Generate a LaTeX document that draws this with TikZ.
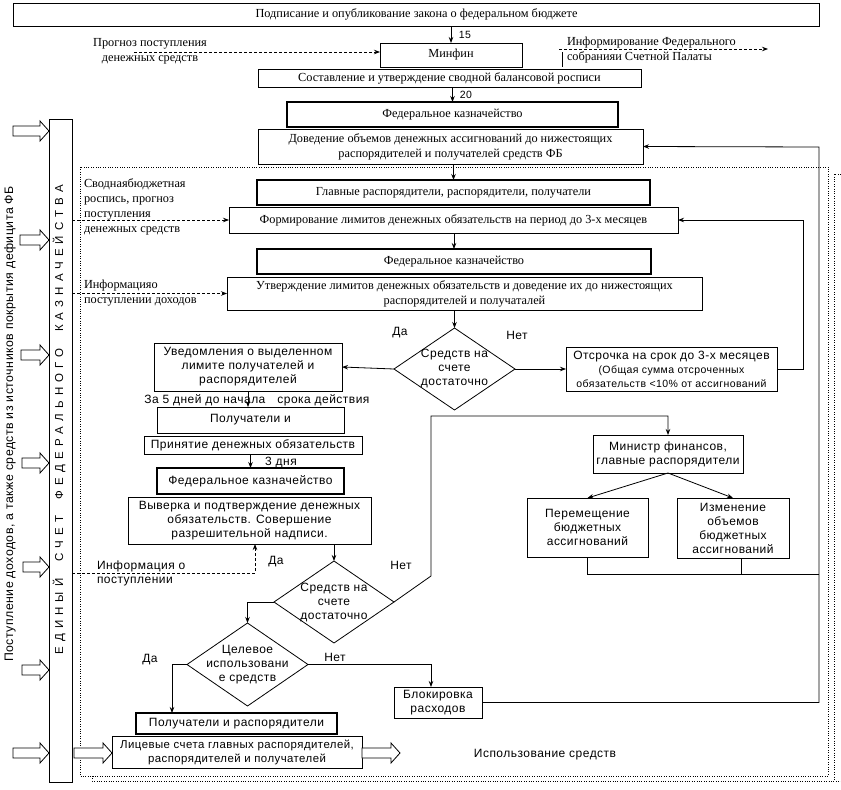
\documentclass[tikz,border=0pt]{standalone}
\usepackage{fontspec}
\setmainfont{Liberation Serif}
\setsansfont{Liberation Sans}
\newfontfamily\spacedsans[LetterSpace=45]{Liberation Sans}
\newfontfamily\widesans[LetterSpace=4]{Liberation Sans}
\usetikzlibrary{shapes.geometric,arrows.meta,calc}
\newcommand\serf{\fontsize{12.3}{15}\selectfont\rmfamily}
\newcommand\sanf{\fontsize{12}{14}\selectfont\widesans}
\newcommand\sanfs{\fontsize{10.5}{14}\selectfont\widesans}
\newcommand\blkarr[3]{%
  \draw[line width=0.8pt,fill=white] (#1,#2-5) -- (#3-9,#2-5) -- (#3-9,#2-10) -- (#3,#2) -- (#3-9,#2+10) -- (#3-9,#2+5) -- (#1,#2+5) -- cycle;}
\begin{document}
\begin{tikzpicture}[x=1pt,y=-1pt,
  every node/.style={inner sep=0pt, outer sep=0pt},
  sbox/.style={draw, line width=0.8pt, align=center, font=\serf},
  bbox/.style={sbox, line width=2.6pt},
  abox/.style={draw, line width=0.8pt, align=center, font=\sanf},
  abbox/.style={abox, line width=2.6pt},
  dia/.style={draw, line width=0.8pt, shape=diamond, inner sep=0pt},
  lbl/.style={align=left, font=\serf},
  albl/.style={align=center, font=\sanf},
  arr/.style={line width=0.8pt, -{Stealth[length=6pt,width=4.5pt]}},
  darr/.style={arr, dash pattern=on 3pt off 2pt},
  dots/.style={line width=0.6pt, dash pattern=on 0.8pt off 1.6pt},
  ln/.style={line width=0.8pt}
]
\useasboundingbox (0,0) rectangle (841,790);

% dotted frames
\draw[dots] (80,167) rectangle (828,776);
\draw[dots] (841,174) -- (834,174) -- (834,781);
\draw[dots] (92,776) -- (92,781) -- (841,781);

% top part
\node[sbox, minimum width=806, minimum height=23] (top) at (416.5,14.5) {Подписание и опубликование закона о федеральном бюджете};
\node[sbox, minimum width=142, minimum height=24] (minfin) at (451,55) {Минфин};
\node[sbox, minimum width=383, minimum height=18] (sost) at (449.5,78) {Составление и утверждение сводной балансовой росписи};
\node[bbox, minimum width=331, minimum height=25] (fk1) at (452.5,114.5) {Федеральное казначейство};
\node[sbox, minimum width=385, minimum height=35] (dov) at (450.5,146.5) {Доведение объемов денежных ассигнований до нижестоящих\\распорядителей и получателей средств ФБ};
\node[bbox, minimum width=393, minimum height=25] (glav) at (453.5,192.5) {Главные распорядители, распорядители, получатели};
\node[sbox, minimum width=449, minimum height=26] (form) at (453.5,220) {Формирование лимитов денежных обязательств на период до 3-х месяцев};
\node[bbox, minimum width=394, minimum height=25] (fk2) at (454,261.5) {Федеральное казначейство};
\node[sbox, minimum width=475, minimum height=33] (utv) at (464.5,293.5) {Утверждение лимитов денежных обязательств и доведение их до нижестоящих\\распорядителей и получаталей};

\node[lbl, align=center] (prog) at (150,51) {Прогноз поступления\\денежных средств};
\node[lbl, anchor=west] (inf) at (567,50) {Информирование Федерального\\собранияи Счетной Палаты};
\node[lbl, anchor=west] (svod) at (84,206.5) {Своднаябюджетная\\роспись, прогноз\\поступления\\денежных средств};
\node[lbl, anchor=west] (infd) at (84,293.5) {Информацияо\\поступлении доходов};
\node[font=\sanfs] (n15) at (465,35) {15};
\node[font=\sanfs] (n20) at (466,95) {20};

% left column
\node[draw, line width=0.8pt, minimum width=23, minimum height=663] (esfk) at (60.5,450.5) {};
\node[rotate=90, font=\spacedsans\fontsize{11.5}{13}\selectfont] (esfkt) at (59,420) {ЕДИНЫЙ\ \ СЧЕТ\ \ ФЕДЕРАЛЬНОГО\ \ КАЗНАЧЕЙСТВА};
\node[rotate=90, font=\fontsize{12.3}{14}\selectfont\widesans] (post) at (10,424) {Поступление доходов, а также средств из источников покрытия дефицита ФБ};

% middle/lower part
\node[dia, minimum width=121, minimum height=82] (d1) at (454.5,369) {};
\node[albl] (d1t) at (d1) {Средств на\\счете\\достаточно};
\node[abox, minimum width=211, minimum height=44] (ots) at (671.5,369) {Отсрочка на срок до 3-х месяцев\\{\sanfs(Общая сумма отсроченных}\\{\sanfs обязательств <10\% от ассигнований}};
\node[abox, minimum width=188, minimum height=48] (uved) at (248,367) {Уведомления о выделенном\\лимите получателей и\\распорядителей};
\node[abox, minimum width=187, minimum height=26] (pol1) at (250.5,420) {Получатели и};
\node[abox, minimum width=218, minimum height=18] (prin) at (253,445) {Принятие денежных обязательств};
\node[abbox, minimum width=187, minimum height=26] (fk3) at (250.5,481) {Федеральное казначейство};
\node[abox, minimum width=243, minimum height=47] (viv) at (249.5,520.5) {Выверка и подтверждение денежных\\обязательств. Совершение\\разрешительной надписи.};
\node[dia, minimum width=120, minimum height=82] (d2) at (334,602) {};
\node[albl] (d2t) at (d2) {Средств на\\счете\\достаточно};
\node[dia, minimum width=121, minimum height=83] (d3) at (247.5,664.5) {};
\node[albl] (d3t) at (d3) {Целевое\\использовани\\е средств};
\node[abox, minimum width=88, minimum height=31] (blok) at (438,702.5) {Блокировка\\расходов};
\node[abbox, minimum width=201, minimum height=21] (polr) at (236.5,723.5) {Получатели и распорядители};
\node[abox, minimum width=250, minimum height=32, font=\fontsize{11.4}{14}\selectfont\widesans] (lic) at (237,752) {Лицевые счета главных распорядителей,\\распорядителей и получателей};
\node[abox, minimum width=150, minimum height=38] (min) at (668,454) {Министр финансов,\\главные распорядители};
\node[abox, minimum width=121, minimum height=59] (per) at (587.5,527.5) {Перемещение\\бюджетных\\ассигнований};
\node[abox, minimum width=112, minimum height=60] (izm) at (733,528) {Изменение\\объемов\\бюджетных\\ассигнований};

\node[albl] (da1) at (400,333) {Да};
\node[albl] (net1) at (517,335) {Нет};
\node[albl] (srok) at (257,400) {За 5 дней до начала\quad срока действия};
\node[albl] (dn3) at (281,462) {3 дня};
\node[albl, align=left, anchor=west] (infp) at (97,573) {Информация о\\поступлении};
\node[albl] (da2) at (276,562) {Да};
\node[albl] (net2) at (401,565) {Нет};
\node[albl] (da3) at (150,660) {Да};
\node[albl] (net3) at (335,657) {Нет};
\node[albl] (isp) at (545,755) {Использование средств};

% coordinates for bends
\coordinate (k1) at (431,576);
\coordinate (k2) at (431,416);
\coordinate (k3) at (803,369);
\coordinate (k4) at (819,147);
\coordinate (k5) at (819,574);
\coordinate (pst) at (134,52);
\coordinate (ist) at (559,49);
\coordinate (ien) at (768,49);

% connectors
\draw[arr] (top.south -| minfin.north) -- (minfin.north);
\draw[arr] (sost.south -| fk1.north) -- (fk1.north);
\draw[arr] (dov.south -| glav.north) -- (glav.north);
\draw[arr] (form.south -| fk2.north) -- (fk2.north);
\draw[arr] (utv.south -| d1.north) -- (d1.north);
\draw[arr] (d1.east) -- (ots.west);
\draw[arr] (d1.west) -- (uved.east);
\draw[arr] (ots.east) -- (k3) |- (form.east);
\draw[arr] (blok.east) -| (k4) -- (dov.east);
\draw[ln] (per.south) |- (k5);
\draw[ln] ([xshift=8]izm.south) -- ([xshift=8]izm.south |- k5);
\draw[arr] (min.south) -- (per.north);
\draw[arr] (min.south) -- (izm.north);
\draw[arr] (d2.east) -- (k1) -- (k2) -| (min.north);
\draw[arr] (uved.south) -- (uved.south |- pol1.north);
\draw[arr] (prin.south -| fk3.north) -- (fk3.north);
\draw[arr] (viv.south -| d2.north) -- (d2.north);
\draw[arr] (d2.west) -| (d3.north);
\draw[arr] (d3.east) -| ([xshift=-7]blok.north);
\draw[arr] (d3.west) -| ([xshift=36]polr.north west);

% dashed info arrows
\draw[darr] (pst) -- (pst -| minfin.west);
\draw[darr] (ist) -- (ien);
\draw[ln] (562,52) -- (562,67);
\draw[darr] (esfk.east |- form.west) -- (form.west);
\draw[darr] (esfk.east |- utv.west) -- (utv.west);
\draw[darr] (esfk.east |- 0,573) -| ([xshift=5.5]viv.south);

% block arrows
\blkarr{13}{131}{49}
\blkarr{20}{240}{49}
\blkarr{21}{355}{49}
\blkarr{22}{463}{49}
\blkarr{23}{567}{49}
\blkarr{22}{670}{49}
\blkarr{13}{753}{49}
\blkarr{74}{753}{112}
\blkarr{362}{753}{400}
\end{tikzpicture}
\end{document}
